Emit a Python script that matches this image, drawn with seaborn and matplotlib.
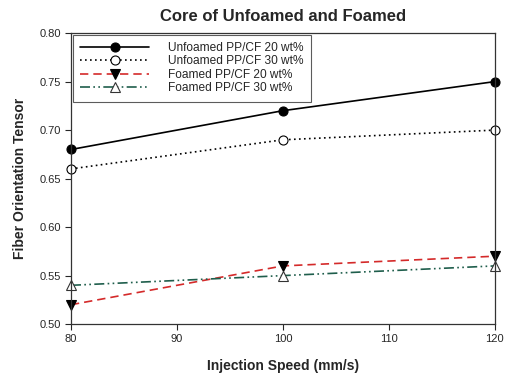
import matplotlib
matplotlib.use("Agg")
import matplotlib.pyplot as plt
import seaborn as sns
import pandas as pd

speed = [80, 100, 120]
unfoamed_20 = [0.68, 0.72, 0.75]
unfoamed_30 = [0.66, 0.69, 0.70]
foamed_20 = [0.52, 0.56, 0.57]
foamed_30 = [0.54, 0.55, 0.56]
labels = ["Unfoamed PP/CF 20 wt%", "Unfoamed PP/CF 30 wt%",
          "Foamed PP/CF 20 wt%", "Foamed PP/CF 30 wt%"]
xticks = [80, 90, 100, 110, 120]
yticks = [0.50, 0.55, 0.60, 0.65, 0.70, 0.75, 0.80]

sns.set_style("white")
plt.rcParams['font.family'] = ['Liberation Sans', 'DejaVu Sans']

fig = plt.figure(figsize=(5.07, 3.76), dpi=100)
ax = fig.add_axes([0.140, 0.138, 0.836, 0.774])

series = [unfoamed_20, unfoamed_30, foamed_20, foamed_30]
styles = [
    dict(color="black", marker="o", mfc="black", mec="black", dashes=None),
    dict(color="black", marker="o", mfc="white", mec="black", dashes=(1, 2)),
    dict(color="#d42a2a", marker="v", mfc="black", mec="black", dashes=(5, 3)),
    dict(color="#1f5e4c", marker="^", mfc="white", mec="#333333", dashes=(6, 2, 1, 2, 1, 2)),
]
handles = []
for vals, lab, st in zip(series, labels, styles):
    df = pd.DataFrame({"x": speed, "y": vals})
    sns.lineplot(data=df, x="x", y="y", ax=ax, color=st["color"], marker=st["marker"],
                 markersize=6.5, markerfacecolor=st["mfc"], markeredgecolor=st["mec"],
                 markeredgewidth=0.8, linewidth=1.2, clip_on=False)
    line = ax.lines[-1]
    if st["dashes"] is not None:
        line.set_dashes(st["dashes"])
    handles.append(line)

ax.set_xlim(80, 120)
ax.set_ylim(0.50, 0.80)
ax.set_xticks(xticks)
ax.set_yticks(yticks)
ax.set_yticklabels([f"{v:.2f}" for v in yticks])
ax.tick_params(axis="both", direction="out", length=4, width=0.8, labelsize=8,
               bottom=True, left=True, top=False, right=False, pad=3)
for s in ax.spines.values():
    s.set_color("#333333")
    s.set_linewidth(0.9)

ax.set_xlabel("Injection Speed (mm/s)", fontsize=10, fontweight="bold", labelpad=11)
ax.set_ylabel("Fiber Orientation Tensor", fontsize=10, fontweight="bold", labelpad=9)
ax.set_title("Core of Unfoamed and Foamed", fontsize=12, fontweight="bold", pad=9)

leg = ax.legend(handles=handles, labels=labels, loc="upper left", bbox_to_anchor=(0.0, 1.0),
                fontsize=8.6, frameon=True, fancybox=False, edgecolor="#333333",
                handlelength=5.8, borderaxespad=0.15, labelspacing=0.12,
                handletextpad=1.6, borderpad=0.6)
leg.get_frame().set_linewidth(0.8)

fig.savefig("out.png", dpi=100)
